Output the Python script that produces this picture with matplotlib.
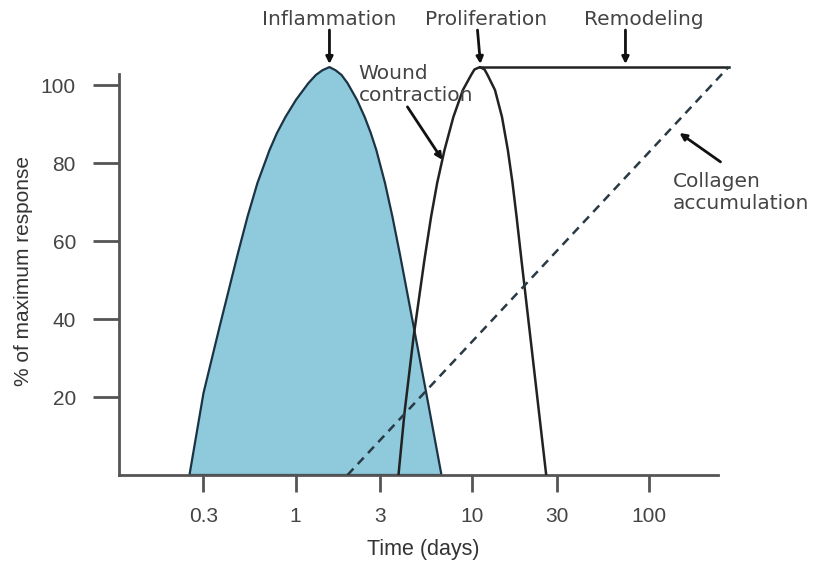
import matplotlib
matplotlib.use("Agg")
import matplotlib.pyplot as plt
import numpy as np

# values (x in days, y in % of max response)
inflam_x = [0.2506, 0.3008, 0.3705, 0.4684, 0.5336, 0.6078, 0.7109, 0.7838, 0.8755, 1.004,
            1.181, 1.303, 1.418, 1.553,
            1.680, 1.816, 1.965, 2.223, 2.458, 2.661, 2.862, 3.202, 3.530, 3.898,
            4.660, 5.484, 6.686]
inflam_y = [0, 21.0, 37.9, 56.4, 66.2, 74.9, 83.3, 87.7, 91.8, 96.2,
            100.5, 102.6, 103.8, 104.6,
            103.8, 102.6, 100.5, 96.2, 91.8, 87.7, 83.3, 74.9, 66.2, 56.4,
            37.9, 21.0, 0]

prolif_x = [3.818, 4.128, 4.647, 5.351, 5.838, 6.322, 6.952, 7.806, 8.835, 9.845, 10.28, 11.04,
            11.71, 12.18, 13.43, 14.71, 15.88, 16.87, 17.79, 18.96, 22.03, 26.17]
prolif_y = [0, 15.9, 35.4, 55.1, 66.2, 74.9, 83.3, 91.8, 98.7, 102.6, 104.0, 104.6,
            104.0, 102.6, 98.7, 91.8, 83.3, 74.9, 66.2, 55.1, 29.5, 0]

remodel_x = [11.04, 281.5]
remodel_y = [104.6, 104.6]

collagen_x = [1.965, 281.5]
collagen_y = [0, 104.6]

xticks = [0.3, 1, 3, 10, 30, 100]
xtick_labels = ["0.3", "1", "3", "10", "30", "100"]
yticks = [20, 40, 60, 80, 100]

fig = plt.figure(figsize=(8.25, 5.62), dpi=100)
ax = fig.add_axes([0.1442, 0.1548, 0.7416, 0.7633])

ax.fill(inflam_x, inflam_y, facecolor="#8ecadc", edgecolor="#1c3344", lw=1.6,
        joinstyle="round", zorder=2)
ax.plot(prolif_x, prolif_y, color="#222222", lw=1.8, solid_joinstyle="round", zorder=3)
ax.plot(remodel_x, remodel_y, color="#222222", lw=1.8, zorder=3)
ax.plot(collagen_x, collagen_y, color="#2a3a44", lw=1.8, ls=(0, (3.5, 2.5)), zorder=3)

ax.set_xscale("log")
ax.set_xlim(0.1, 290)
ax.set_ylim(0, 110)

for s in ["top", "right"]:
    ax.spines[s].set_visible(False)
for s in ["left", "bottom"]:
    ax.spines[s].set_color("#555555")
    ax.spines[s].set_linewidth(2)
ax.spines["left"].set_bounds(0, 102.8)
ax.spines["bottom"].set_bounds(0.1, 247)

ax.set_xticks(xticks)
ax.set_xticklabels(xtick_labels)
ax.xaxis.set_minor_locator(matplotlib.ticker.NullLocator())
ax.set_yticks(yticks)

ax.tick_params(axis="x", length=12, width=2, color="#555555", pad=11,
               labelsize=15, labelcolor="#444444")
ax.tick_params(axis="y", length=19, width=2, color="#555555", pad=12,
               labelsize=15, labelcolor="#444444")
for lab in ax.get_xticklabels() + ax.get_yticklabels():
    lab.set_family("Liberation Sans")

ax.set_xlabel("Time (days)", fontsize=15.5, color="#333333", family="Liberation Sans", va="center")
ax.xaxis.set_label_coords(0.497, -0.1725)
ax.set_ylabel("% of maximum response", fontsize=15, color="#333333", family="Liberation Sans",
              va="center")
ax.yaxis.set_label_coords(-0.1553, 0.4755)

txt = dict(fontsize=14.5, color="#444444", family="DejaVu Sans", clip_on=False)
ax.text(1.553, 116.7, "Inflammation", ha="center", va="center", **txt)
ax.text(12.02, 116.7, "Proliferation", ha="center", va="center", **txt)
ax.text(92.9, 116.7, "Remodeling", ha="center", va="center", **txt)
ax.text(2.267, 100.1, "Wound\ncontraction", ha="left", va="center", linespacing=1.2, **txt)
ax.text(135.7, 72.4, "Collagen\naccumulation", ha="left", va="center", linespacing=1.2, **txt)

arrow = dict(arrowstyle="-|>", color="#111111", lw=2, mutation_scale=10, shrinkA=0, shrinkB=0)
ax.annotate("", xy=(1.553, 105.4), xytext=(1.553, 114.1), arrowprops=arrow, annotation_clip=False)
ax.annotate("", xy=(11.11, 105.4), xytext=(10.69, 114.1), arrowprops=arrow, annotation_clip=False)
ax.annotate("", xy=(73.5, 105.4), xytext=(73.5, 114.1), arrowprops=arrow, annotation_clip=False)
ax.annotate("", xy=(6.77, 80.8), xytext=(4.29, 94.4), arrowprops=arrow, annotation_clip=False)
ax.annotate("", xy=(148.6, 87.7), xytext=(253.6, 80.3), arrowprops=arrow, annotation_clip=False)

fig.savefig("out.png", dpi=100)
